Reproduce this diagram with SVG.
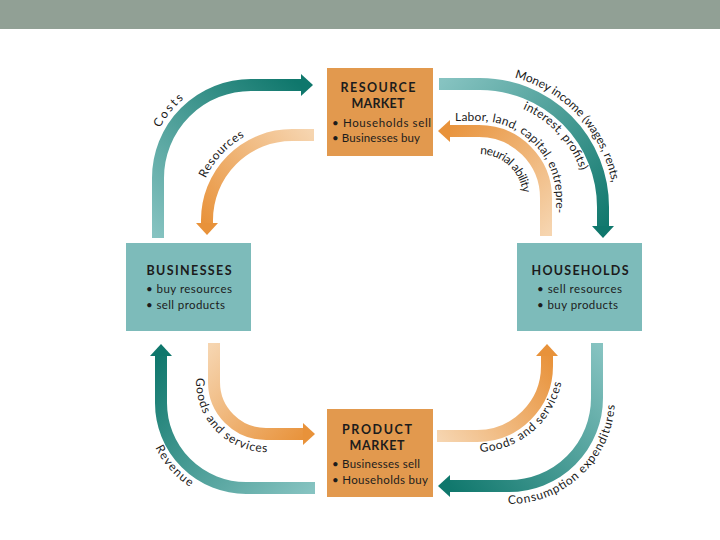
<svg xmlns="http://www.w3.org/2000/svg" width="720" height="540" viewBox="0 0 720 540">
<defs>
<style>
.box-o{fill:#e2994e}
.box-t{fill:#7dbbba}
.ttl{font-family:Lato,"Open Sans",sans-serif;font-weight:bold;font-size:12.5px;fill:#1c1c1c;text-anchor:middle}
.bul{font-family:Lato,"Open Sans",sans-serif;font-size:11.5px;fill:#1c1c1c}
.lbl{font-family:Lato,"Open Sans",sans-serif;font-size:12px;fill:#1c1c1c}
.band{fill:none;stroke-width:12}
.hd-t{fill:#0f776c}
.hd-o{fill:#e8923a}
</style>
<linearGradient id="gCosts" gradientUnits="userSpaceOnUse" x1="158" y1="238" x2="300" y2="85"><stop offset="0" stop-color="#86c3c1"/><stop offset="1" stop-color="#0f776c"/></linearGradient>
<linearGradient id="gMoney" gradientUnits="userSpaceOnUse" x1="440" y1="84" x2="603" y2="235"><stop offset="0" stop-color="#86c3c1"/><stop offset="1" stop-color="#0f776c"/></linearGradient>
<linearGradient id="gRev" gradientUnits="userSpaceOnUse" x1="315" y1="488" x2="161" y2="350"><stop offset="0" stop-color="#86c3c1"/><stop offset="1" stop-color="#0f776c"/></linearGradient>
<linearGradient id="gCons" gradientUnits="userSpaceOnUse" x1="597" y1="343" x2="445" y2="486"><stop offset="0" stop-color="#86c3c1"/><stop offset="1" stop-color="#0f776c"/></linearGradient>
<linearGradient id="gRes" gradientUnits="userSpaceOnUse" x1="314" y1="135" x2="207" y2="230"><stop offset="0" stop-color="#f6d5b0"/><stop offset="1" stop-color="#e8923a"/></linearGradient>
<linearGradient id="gLab" gradientUnits="userSpaceOnUse" x1="546" y1="236" x2="440" y2="131"><stop offset="0" stop-color="#f6d5b0"/><stop offset="1" stop-color="#e8923a"/></linearGradient>
<linearGradient id="gGL" gradientUnits="userSpaceOnUse" x1="214" y1="343" x2="310" y2="434"><stop offset="0" stop-color="#f6d5b0"/><stop offset="1" stop-color="#e8923a"/></linearGradient>
<linearGradient id="gGR" gradientUnits="userSpaceOnUse" x1="437" y1="436" x2="547" y2="350"><stop offset="0" stop-color="#f6d5b0"/><stop offset="1" stop-color="#e8923a"/></linearGradient>
<path id="tCosts" d="M147,178 A104,104 0 0 1 251,74"/>
<path id="tRes" d="M196,220 A96,96 0 0 1 292,124"/>
<path id="tMoney" d="M480,73 A134,134 0 0 1 614,207"/>
<path id="tInt" d="M480,100 A107,107 0 0 1 587,207"/>
<path id="tLab" d="M450,121 L479,121 A77,77 0 0 1 556,198 L556,230"/>
<path id="tNeu" d="M479,154 A44,44 0 0 1 523,198"/>
<path id="tGL" d="M196,360 L196,382 A70,70 0 0 0 266,452 L300,452"/>
<path id="tRev" d="M145,403 A101,101 0 0 0 246,504"/>
<path id="tGR" d="M470,452 L477,452 A86,86 0 0 0 563,366 L563,350"/>
<path id="tCons" d="M495,504 L509,504 A106,106 0 0 0 615,398 L615,380"/>
</defs>
<rect x="0" y="0" width="720" height="540" fill="#ffffff"/>
<rect x="0" y="0" width="720" height="29" fill="#91a095"/>

<g id="connectors">
<g id="costs">
<path class="band" stroke="url(#gCosts)" d="M158,238 L158,178 A93,93 0 0 1 251,85 L302,85"/>
<polygon class="hd-t" points="301,74 313,85 301,96"/>
</g>
<g id="resources">
<path class="band" stroke="url(#gRes)" d="M314,135 L292,135 A85,85 0 0 0 207,220 L207,224"/>
<polygon class="hd-o" points="196,223 207,235 218,223"/>
</g>
<g id="money">
<path class="band" stroke="url(#gMoney)" d="M439,84 L480,84 A123,123 0 0 1 603,207 L603,227"/>
<polygon class="hd-t" points="592,226 603,238 614,226"/>
</g>
<g id="labor">
<path class="band" stroke="url(#gLab)" d="M546,236 L546,198 A67,67 0 0 0 479,131 L449,131"/>
<polygon class="hd-o" points="450,120 438,131 450,142"/>
</g>
<g id="goods-left">
<path class="band" stroke="url(#gGL)" d="M214,343 L214,382 A52,52 0 0 0 266,434 L304,434"/>
<polygon class="hd-o" points="303,423 315,434 303,445"/>
</g>
<g id="revenue">
<path class="band" stroke="url(#gRev)" d="M315,488 L246,488 A85,85 0 0 1 161,403 L161,355"/>
<polygon class="hd-t" points="150,356 161,344 172,356"/>
</g>
<g id="goods-right">
<path class="band" stroke="url(#gGR)" d="M437,436 L477,436 A70,70 0 0 0 547,366 L547,355"/>
<polygon class="hd-o" points="536,356 547,344 558,356"/>
</g>
<g id="consumption">
<path class="band" stroke="url(#gCons)" d="M597,343 L597,398 A88,88 0 0 1 509,486 L449,486"/>
<polygon class="hd-t" points="450,475 438,486 450,497"/>
</g>
<text class="lbl"><textPath href="#tCosts" startOffset="52" textLength="38" lengthAdjust="spacing">Costs</textPath></text>
<text class="lbl"><textPath href="#tRes" startOffset="43" textLength="58" lengthAdjust="spacing">Resources</textPath></text>
<text class="lbl"><textPath href="#tMoney" startOffset="35" textLength="151" lengthAdjust="spacing">Money income (wages, rents,</textPath></text>
<text class="lbl"><textPath href="#tInt" startOffset="44" textLength="87" lengthAdjust="spacing">interest, profits)</textPath></text>
<text class="lbl"><textPath href="#tLab" startOffset="5" textLength="160" lengthAdjust="spacing">Labor, land, capital, entrepre-</textPath></text>
<text class="lbl"><textPath href="#tNeu" startOffset="1" textLength="63" lengthAdjust="spacing">neurial ability</textPath></text>
<text class="lbl"><textPath href="#tGL" startOffset="18" textLength="115" lengthAdjust="spacing">Goods and services</textPath></text>
<text class="lbl"><textPath href="#tRev" startOffset="46" textLength="53" lengthAdjust="spacing">Revenue</textPath></text>
<text class="lbl"><textPath href="#tGR" startOffset="10" textLength="115" lengthAdjust="spacing">Goods and services</textPath></text>
<text class="lbl"><textPath href="#tCons" startOffset="13" textLength="160" lengthAdjust="spacing">Consumption expenditures</textPath></text>
</g>

<g id="resource-market">
<rect class="box-o" x="327" y="68" width="106" height="88"/>
<text class="ttl" x="378" y="92" textLength="75" lengthAdjust="spacing">RESOURCE</text>
<text class="ttl" x="378" y="108" textLength="53" lengthAdjust="spacing">MARKET</text>
<text class="bul" x="332" y="127" textLength="99" lengthAdjust="spacing">• Households sell</text>
<text class="bul" x="332" y="142" textLength="88" lengthAdjust="spacing">• Businesses buy</text>
</g>

<g id="businesses">
<rect class="box-t" x="126" y="243" width="125" height="88"/>
<text class="ttl" x="189" y="275" textLength="85" lengthAdjust="spacing">BUSINESSES</text>
<text class="bul" x="146" y="293" textLength="86" lengthAdjust="spacing">• buy resources</text>
<text class="bul" x="146" y="309" textLength="79" lengthAdjust="spacing">• sell products</text>
</g>

<g id="households">
<rect class="box-t" x="517" y="243" width="125" height="88"/>
<text class="ttl" x="580" y="275" textLength="97" lengthAdjust="spacing">HOUSEHOLDS</text>
<text class="bul" x="537" y="293" textLength="85" lengthAdjust="spacing">• sell resources</text>
<text class="bul" x="537" y="309" textLength="81" lengthAdjust="spacing">• buy products</text>
</g>

<g id="product-market">
<rect class="box-o" x="327" y="409" width="106" height="88"/>
<text class="ttl" x="377" y="434" textLength="70" lengthAdjust="spacing">PRODUCT</text>
<text class="ttl" x="377" y="450" textLength="55" lengthAdjust="spacing">MARKET</text>
<text class="bul" x="332" y="468" textLength="88" lengthAdjust="spacing">• Businesses sell</text>
<text class="bul" x="332" y="484" textLength="96" lengthAdjust="spacing">• Households buy</text>
</g>
</svg>
